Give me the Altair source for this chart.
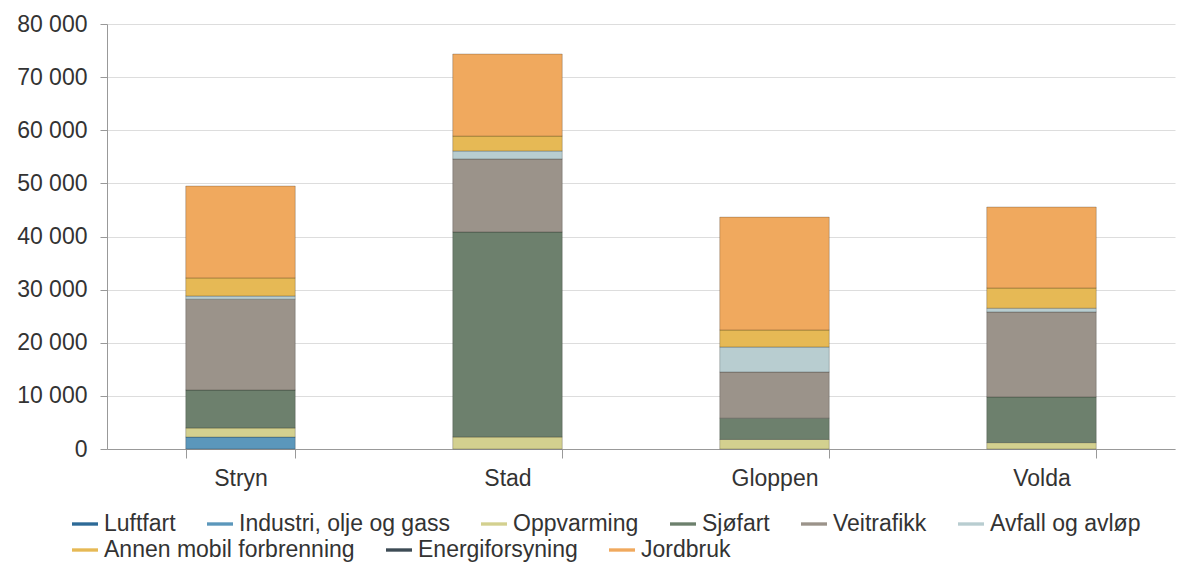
import altair as alt
import pandas as pd

kommuner = ["Stryn", "Stad", "Gloppen", "Volda"]
sektorer = ["Luftfart", "Industri, olje og gass", "Oppvarming", "Sjøfart", "Veitrafikk",
            "Avfall og avløp", "Annen mobil forbrenning", "Energiforsyning", "Jordbruk"]
farger = ["#2d6a97", "#5b97bb", "#d3d08f", "#6d806d", "#9b938a",
          "#b8cdd0", "#e6b955", "#3d4b55", "#f0a95e"]

luftfart = [0, 0, 0, 0]
industri = [2250, 0, 0, 0]
oppvarming = [1700, 2250, 1800, 1200]
sjofart = [7150, 38600, 4000, 8600]
veitrafikk = [17100, 13750, 8700, 16000]
avfall = [600, 1500, 4700, 700]
annen_mobil = [3400, 2800, 3200, 3800]
energi = [0, 0, 0, 0]
jordbruk = [17300, 15450, 21250, 15250]

serier = [luftfart, industri, oppvarming, sjofart, veitrafikk, avfall, annen_mobil, energi, jordbruk]
rows = []
for si, (navn, verdier) in enumerate(zip(sektorer, serier)):
    for k, v in zip(kommuner, verdier):
        rows.append({"kommune": k, "sektor": navn, "verdi": v, "rekke": si})
df = pd.DataFrame(rows)

FONT_AX = 23
FONT_LEG = 23
SYMBOL = "M-1,-0.13L1,-0.13L1,0.13L-1,0.13Z"

x_enc = alt.X("kommune:N", sort=kommuner, title=None,
              scale=alt.Scale(paddingInner=0.59, paddingOuter=0.295),
              axis=alt.Axis(labelAngle=0, labelFontSize=FONT_AX, labelColor="#333",
                            labelPadding=9, tickBand="extent", tickSize=9,
                            tickColor="#999", domainColor="#999", grid=False))
y_enc = alt.Y("y0:Q", title=None, scale=alt.Scale(domain=[0, 80000]),
              axis=alt.Axis(values=list(range(0, 80001, 10000)), labelFontSize=FONT_AX,
                            labelColor="#333", tickSize=7, tickColor="#999",
                            domainColor="#999", gridColor="#dddddd", labelPadding=13,
                            labelExpr="replace(format(datum.value, ','), ',', ' ')"))


def legend(y):
    return alt.Legend(orient="none", legendX=-35, legendY=y, direction="horizontal",
                      symbolType=SYMBOL, symbolSize=676, symbolStrokeWidth=0,
                      labelFontSize=FONT_LEG, labelColor="#333", columnPadding=31,
                      labelOffset=6, labelLimit=500)


base = alt.Chart(df).transform_stack(
    stack="verdi", groupby=["kommune"], sort=[alt.SortField("rekke", "ascending")],
    as_=["y0", "y1"]
).transform_filter("datum.verdi > 0")

lag1 = base.transform_filter("datum.rekke < 6").mark_bar(
    stroke="#000", strokeOpacity=0.22, strokeWidth=1
).encode(
    x=x_enc, y=y_enc, y2="y1:Q",
    color=alt.Color("sektor:N", title=None,
                    scale=alt.Scale(domain=sektorer[:6], range=farger[:6]),
                    legend=legend(487)),
)
lag2 = base.transform_filter("datum.rekke >= 6").mark_bar(
    stroke="#000", strokeOpacity=0.22, strokeWidth=1
).encode(
    x=x_enc, y=y_enc, y2="y1:Q",
    color=alt.Color("sektor:N", title=None,
                    scale=alt.Scale(domain=sektorer[6:], range=farger[6:]),
                    legend=legend(513)),
)

chart = alt.layer(lag1, lag2).resolve_scale(color="independent").properties(
    width=1068, height=425,
    autosize=alt.AutoSizeParams(type="none"),
    padding={"left": 99, "top": 16, "right": 4, "bottom": 113},
).configure(
    font="Liberation Sans",
).configure_view(stroke=None)

chart.save("out.html", embed_options={"renderer": "svg", "actions": False})
